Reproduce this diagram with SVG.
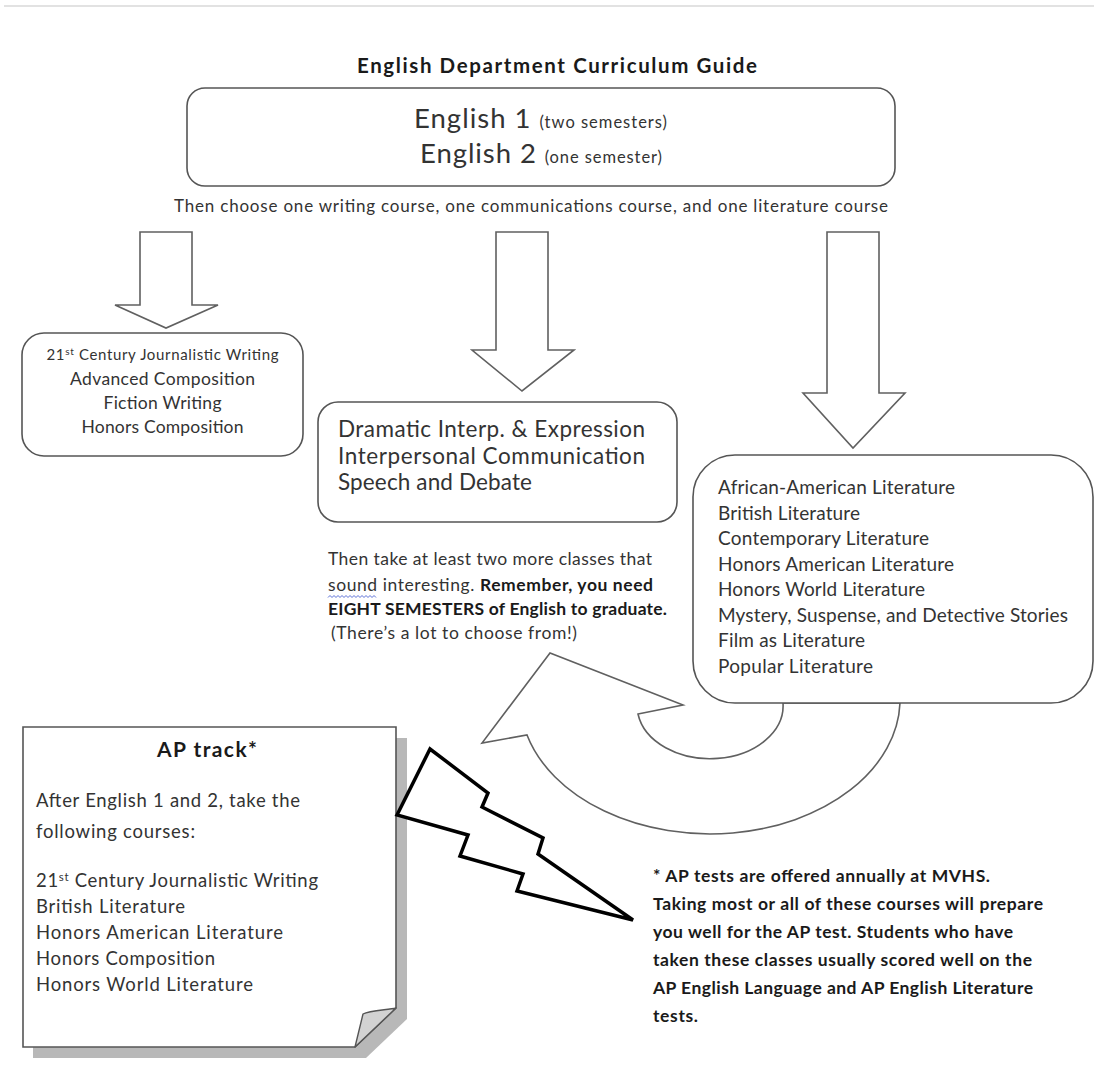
<svg xmlns="http://www.w3.org/2000/svg" width="1094" height="1068" viewBox="0 0 1094 1068">
<style>
.t{font-family:Lato,"Liberation Sans",sans-serif;fill:#333}
.b{font-weight:bold;fill:#1a1a1a}
.c{text-anchor:middle}
.box{fill:#fff;stroke:#555;stroke-width:1.6}
.arr{fill:#fff;stroke:#606060;stroke-width:1.6;stroke-linejoin:miter}
</style>
<rect x="4" y="5" width="1090" height="2" fill="#e2e2e2"/>
<text class="t b" x="357" y="73" font-size="20.5" textLength="400" lengthAdjust="spacing">English Department Curriculum Guide</text>

<g id="connectors">
  <path class="arr" d="M140,232 H192 V305 H218 L166,328 L115,305 H140 Z"/>
  <path class="arr" d="M496,232 H548 V350 H574 L522,391 L472,350 H496 Z"/>
  <path class="arr" d="M827,232 H879 V393 H905 L853,448 L803,393 H827 Z"/>
  <path id="circ" class="arr" stroke-width="1.3" d="M638,714 L683,705 L550,653 L482,743 L527,735 A190 135 0 0 0 900,703 L783,703 A73 53 0 0 1 638,714 Z"/>
</g>

<g id="top">
  <rect class="box" x="187" y="88" width="708" height="98" rx="18"/>
  <text class="t" x="414" y="128" font-size="27.5" textLength="253" lengthAdjust="spacing">English 1 <tspan font-size="16.5">(two semesters)</tspan></text>
  <text class="t" x="420" y="163" font-size="27.5" textLength="242" lengthAdjust="spacing">English 2 <tspan font-size="16.5">(one semester)</tspan></text>
</g>
<text class="t" x="174" y="212" font-size="17" textLength="714" lengthAdjust="spacing">Then choose one writing course, one communications course, and one literature course</text>

<g id="writing">
  <rect class="box" x="22" y="333" width="281" height="123" rx="22"/>
  <text class="t c" x="162.5" y="360" font-size="15" textLength="232" lengthAdjust="spacing">21<tspan dy="-5" font-size="10">st</tspan><tspan dy="5"> Century Journalistic Writing</tspan></text>
  <text class="t c" x="162.5" y="385" font-size="17.5" textLength="185" lengthAdjust="spacing">Advanced Composition</text>
  <text class="t c" x="162.5" y="409" font-size="17.5" textLength="118" lengthAdjust="spacing">Fiction Writing</text>
  <text class="t c" x="162.5" y="433" font-size="17.5" textLength="162" lengthAdjust="spacing">Honors Composition</text>
</g>

<g id="communications">
  <rect class="box" x="318" y="402" width="359" height="120" rx="20"/>
  <text class="t" x="338" y="437" font-size="22.5" textLength="307" lengthAdjust="spacing">Dramatic Interp. &amp; Expression</text>
  <text class="t" x="338" y="464" font-size="22.5" textLength="307" lengthAdjust="spacing">Interpersonal Communication</text>
  <text class="t" x="338" y="490" font-size="22.5" textLength="194" lengthAdjust="spacing">Speech and Debate</text>
</g>

<g id="literature">
  <rect class="box" x="693" y="455" width="400" height="248" rx="42"/>
  <text class="t" x="718" y="494" font-size="19" textLength="237" lengthAdjust="spacing">African-American Literature</text>
  <text class="t" x="718" y="519.5" font-size="19" textLength="142" lengthAdjust="spacing">British Literature</text>
  <text class="t" x="718" y="545" font-size="19" textLength="211" lengthAdjust="spacing">Contemporary Literature</text>
  <text class="t" x="718" y="570.5" font-size="19" textLength="236" lengthAdjust="spacing">Honors American Literature</text>
  <text class="t" x="718" y="596" font-size="19" textLength="207" lengthAdjust="spacing">Honors World Literature</text>
  <text class="t" x="718" y="621.5" font-size="19" textLength="350" lengthAdjust="spacing">Mystery, Suspense, and Detective Stories</text>
  <text class="t" x="718" y="647" font-size="19" textLength="147" lengthAdjust="spacing">Film as Literature</text>
  <text class="t" x="718" y="672.5" font-size="19" textLength="155" lengthAdjust="spacing">Popular Literature</text>
</g>

<g id="more-classes">
  <text class="t" x="328" y="565" font-size="17.5" textLength="324" lengthAdjust="spacing">Then take at least two more classes that</text>
  <text class="t" x="328" y="591" font-size="17.5" textLength="325" lengthAdjust="spacing">sound interesting. <tspan class="b">Remember, you need</tspan></text>
  <path d="M328,597.5 l2,-2 l2,2 l2,-2 l2,2 l2,-2 l2,2 l2,-2 l2,2 l2,-2 l2,2 l2,-2 l2,2 l2,-2 l2,2 l2,-2 l2,2 l2,-2 l2,2 l2,-2 l2,2 l2,-2 l2,2 l2,-2 l2,2" fill="none" stroke="#5a6fd6" stroke-width="1"/>
  <text class="t b" x="328" y="615" font-size="17.5" textLength="339" lengthAdjust="spacing">EIGHT SEMESTERS of English to graduate.</text>
  <text class="t" x="331" y="639" font-size="17.5" textLength="246" lengthAdjust="spacing">(There’s a lot to choose from!)</text>
</g>

<g id="ap-track">
  <path d="M33,738 H407 V1019 L366,1058 H33 Z" fill="#b8b8b8"/>
  <path class="box" d="M23,727 H396 V1008 L355,1047 H23 Z"/>
  <path d="M396,1008 C388,1010 370,1010 363,1014 L355,1047 Z" fill="#d2d2d2" stroke="#555" stroke-width="1.4" stroke-linejoin="round"/>
  <text class="t b" x="157" y="757" font-size="21" textLength="100" lengthAdjust="spacing">AP track*</text>
  <text class="t" x="36" y="807" font-size="18.5" textLength="264" lengthAdjust="spacing">After English 1 and 2, take the</text>
  <text class="t" x="36" y="838" font-size="18.5" textLength="159" lengthAdjust="spacing">following courses:</text>
  <text class="t" x="36" y="887" font-size="18.5" textLength="282" lengthAdjust="spacing">21<tspan dy="-6" font-size="11.5">st</tspan><tspan dy="6"> Century Journalistic Writing</tspan></text>
  <text class="t" x="36" y="913" font-size="18.5" textLength="149" lengthAdjust="spacing">British Literature</text>
  <text class="t" x="36" y="939" font-size="18.5" textLength="247" lengthAdjust="spacing">Honors American Literature</text>
  <text class="t" x="36" y="965" font-size="18.5" textLength="179" lengthAdjust="spacing">Honors Composition</text>
  <text class="t" x="36" y="991" font-size="18.5" textLength="217" lengthAdjust="spacing">Honors World Literature</text>
</g>

<g id="lightning">
  <path d="M397,815 L430,749 L488,793 L482,807 L543,838 L538,854 L633,920 L517,891 L523,874 L460,856 L468,835 Z" fill="#fff" stroke="#000" stroke-width="3.5" stroke-linejoin="miter"/>
</g>

<g id="footnote">
  <text class="t b" x="653" y="882" font-size="17.5" textLength="337" lengthAdjust="spacing">* AP tests are offered annually at MVHS.</text>
  <text class="t b" x="653" y="910" font-size="17.5" textLength="390" lengthAdjust="spacing">Taking most or all of these courses will prepare</text>
  <text class="t b" x="653" y="938" font-size="17.5" textLength="360" lengthAdjust="spacing">you well for the AP test. Students who have</text>
  <text class="t b" x="653" y="966" font-size="17.5" textLength="379" lengthAdjust="spacing">taken these classes usually scored well on the</text>
  <text class="t b" x="653" y="994" font-size="17.5" textLength="380" lengthAdjust="spacing">AP English Language and AP English Literature</text>
  <text class="t b" x="653" y="1022" font-size="17.5" textLength="45" lengthAdjust="spacing">tests.</text>
</g>
</svg>
